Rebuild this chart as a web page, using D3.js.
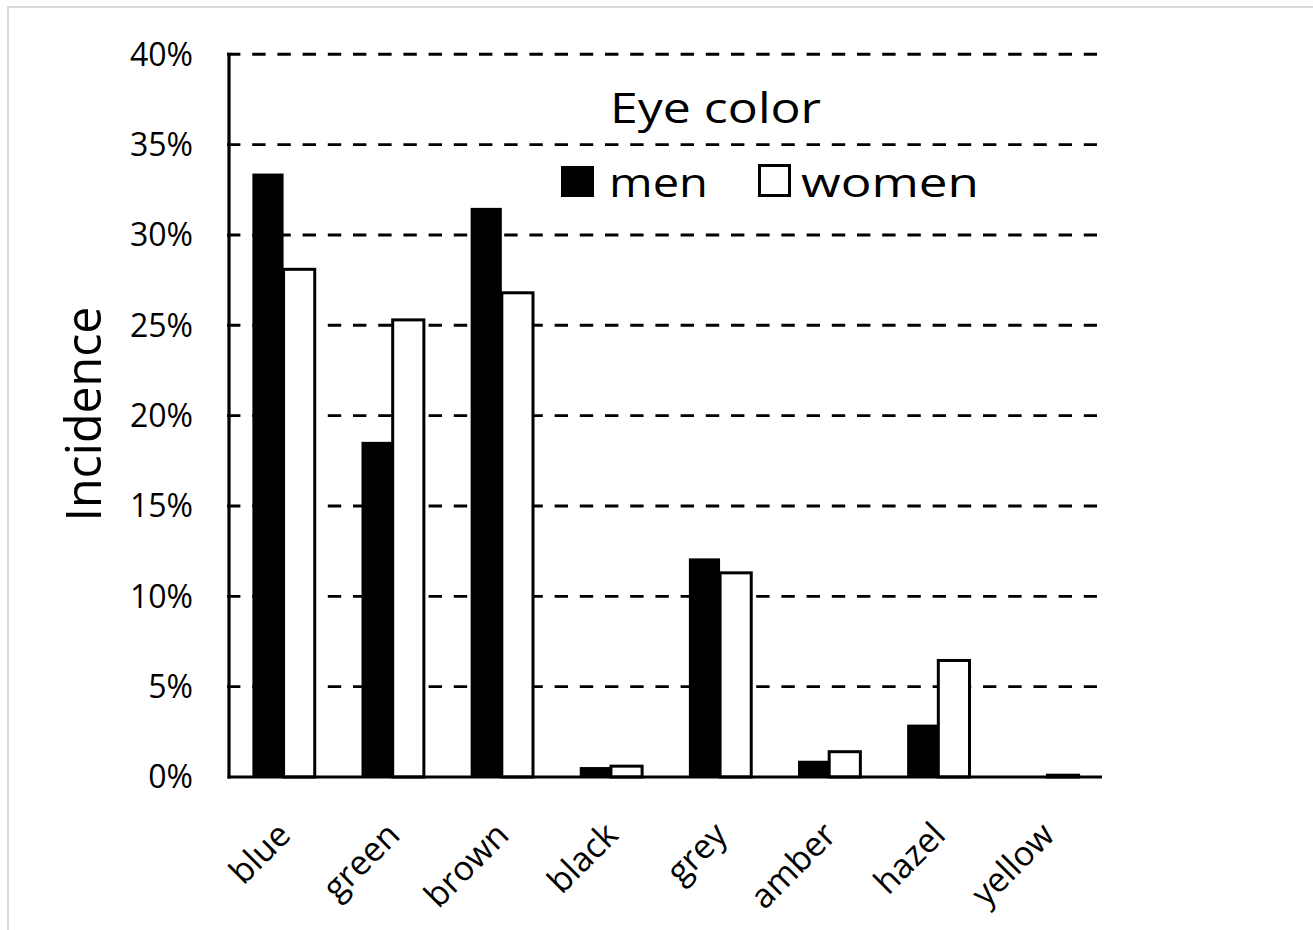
<!DOCTYPE html>
<html>
<head>
<meta charset="utf-8">
<script src="https://cdn.jsdelivr.net/npm/d3@7"></script>
<style>
  html, body { margin: 0; padding: 0; background: #fff; }
  svg { display: block; }
  text { font-family: "Open Sans", "Noto Sans", sans-serif; fill: #000; }
</style>
</head>
<body>
<svg id="chart" width="1313" height="930"></svg>
<script>
// Eye colour incidence by sex (fractions of each group)
const categories = ["blue", "green", "brown", "black", "grey", "amber", "hazel", "yellow"];
const men   = [0.334, 0.1855, 0.315, 0.0055, 0.121, 0.009, 0.029, 0.0];
const women = [0.281, 0.253, 0.268, 0.006, 0.113, 0.014, 0.0645, 0.001];
const seriesNames = ["men", "women"];
const yTicks = [0, 0.05, 0.10, 0.15, 0.20, 0.25, 0.30, 0.35, 0.40];

const svg = d3.select("#chart");

// outer frame
svg.append("rect")
  .attr("x", 8).attr("y", 7).attr("width", 1400).attr("height", 1000)
  .attr("fill", "none").attr("stroke", "#d9d9d9").attr("stroke-width", 2);

const plot = { left: 229, right: 1102, top: 54.3, bottom: 777 };

const x = d3.scaleBand().domain(categories).range([plot.left, plot.right]).paddingInner(0).paddingOuter(0);
const y = d3.scaleLinear().domain([0, 0.40]).range([plot.bottom, plot.top]);
const sub = d3.scaleBand().domain(seriesNames)
  .range([0, x.bandwidth()]).paddingInner(0).paddingOuter(0.75);

// dashed gridlines
svg.append("g").selectAll("line").data(yTicks.filter(d => d > 0)).join("line")
  .attr("x1", plot.left - 2).attr("x2", 1097)
  .attr("y1", d => y(d)).attr("y2", d => y(d))
  .attr("stroke", "#000").attr("stroke-width", 2.9)
  .attr("stroke-dasharray", "13.4,11.8");

// y tick labels
const yAxis = d3.axisLeft(y).tickValues(yTicks).tickFormat(d3.format(".0%")).tickSize(0).tickPadding(0);
const gy = svg.append("g").attr("transform", `translate(${plot.left - 36},0)`).call(yAxis);
gy.select(".domain").remove();
gy.selectAll("text")
  .attr("font-family", "'Open Sans', sans-serif")
  .attr("font-size", 32).attr("fill", "#000")
  .attr("dy", "0.34em");

// bars
const groups = svg.append("g").selectAll("g").data(categories).join("g")
  .attr("transform", d => `translate(${x(d)},0)`);

groups.append("rect")
  .attr("x", sub("men")).attr("width", sub.bandwidth())
  .attr("y", (d, i) => y(men[i])).attr("height", (d, i) => y(0) - y(men[i]))
  .attr("fill", "#000");

groups.append("rect")
  .attr("x", sub("women")).attr("width", sub.bandwidth())
  .attr("y", (d, i) => y(women[i])).attr("height", (d, i) => y(0) - y(women[i]))
  .attr("fill", "#fff").attr("stroke", "#000").attr("stroke-width", 3);

// axes lines
svg.append("line")
  .attr("x1", plot.left).attr("x2", plot.left)
  .attr("y1", plot.top - 1.5).attr("y2", plot.bottom + 1.5)
  .attr("stroke", "#000").attr("stroke-width", 3.2);
svg.append("line")
  .attr("x1", plot.left - 1.5).attr("x2", plot.right)
  .attr("y1", plot.bottom).attr("y2", plot.bottom)
  .attr("stroke", "#000").attr("stroke-width", 3);

// category labels
svg.append("g").selectAll("text").data(categories).join("text")
  .attr("transform", d => `translate(${x(d) + x.bandwidth() / 2 + 9},${plot.bottom + 60}) rotate(-45)`)
  .attr("text-anchor", "end")
  .attr("font-size", 34)
  .text(d => d);

// y axis title
svg.append("text")
  .attr("transform", `translate(101,414) rotate(-90)`)
  .attr("text-anchor", "middle")
  .attr("font-size", 50)
  .attr("textLength", 215).attr("lengthAdjust", "spacingAndGlyphs")
  .text("Incidence");

// chart title
svg.append("text")
  .attr("x", 610).attr("y", 123)
  .attr("font-size", 42)
  .attr("textLength", 211).attr("lengthAdjust", "spacingAndGlyphs")
  .text("Eye color");

// legend
svg.append("rect").attr("x", 561).attr("y", 166).attr("width", 33).attr("height", 31).attr("fill", "#000");
svg.append("text").attr("x", 609).attr("y", 197).attr("font-size", 41)
  .attr("textLength", 99).attr("lengthAdjust", "spacingAndGlyphs").text(seriesNames[0]);
svg.append("rect").attr("x", 759.5).attr("y", 165.5).attr("width", 30).attr("height", 30)
  .attr("fill", "#fff").attr("stroke", "#000").attr("stroke-width", 3);
svg.append("text").attr("x", 801).attr("y", 197).attr("font-size", 41)
  .attr("textLength", 178).attr("lengthAdjust", "spacingAndGlyphs").text(seriesNames[1]);
</script>
</body>
</html>
